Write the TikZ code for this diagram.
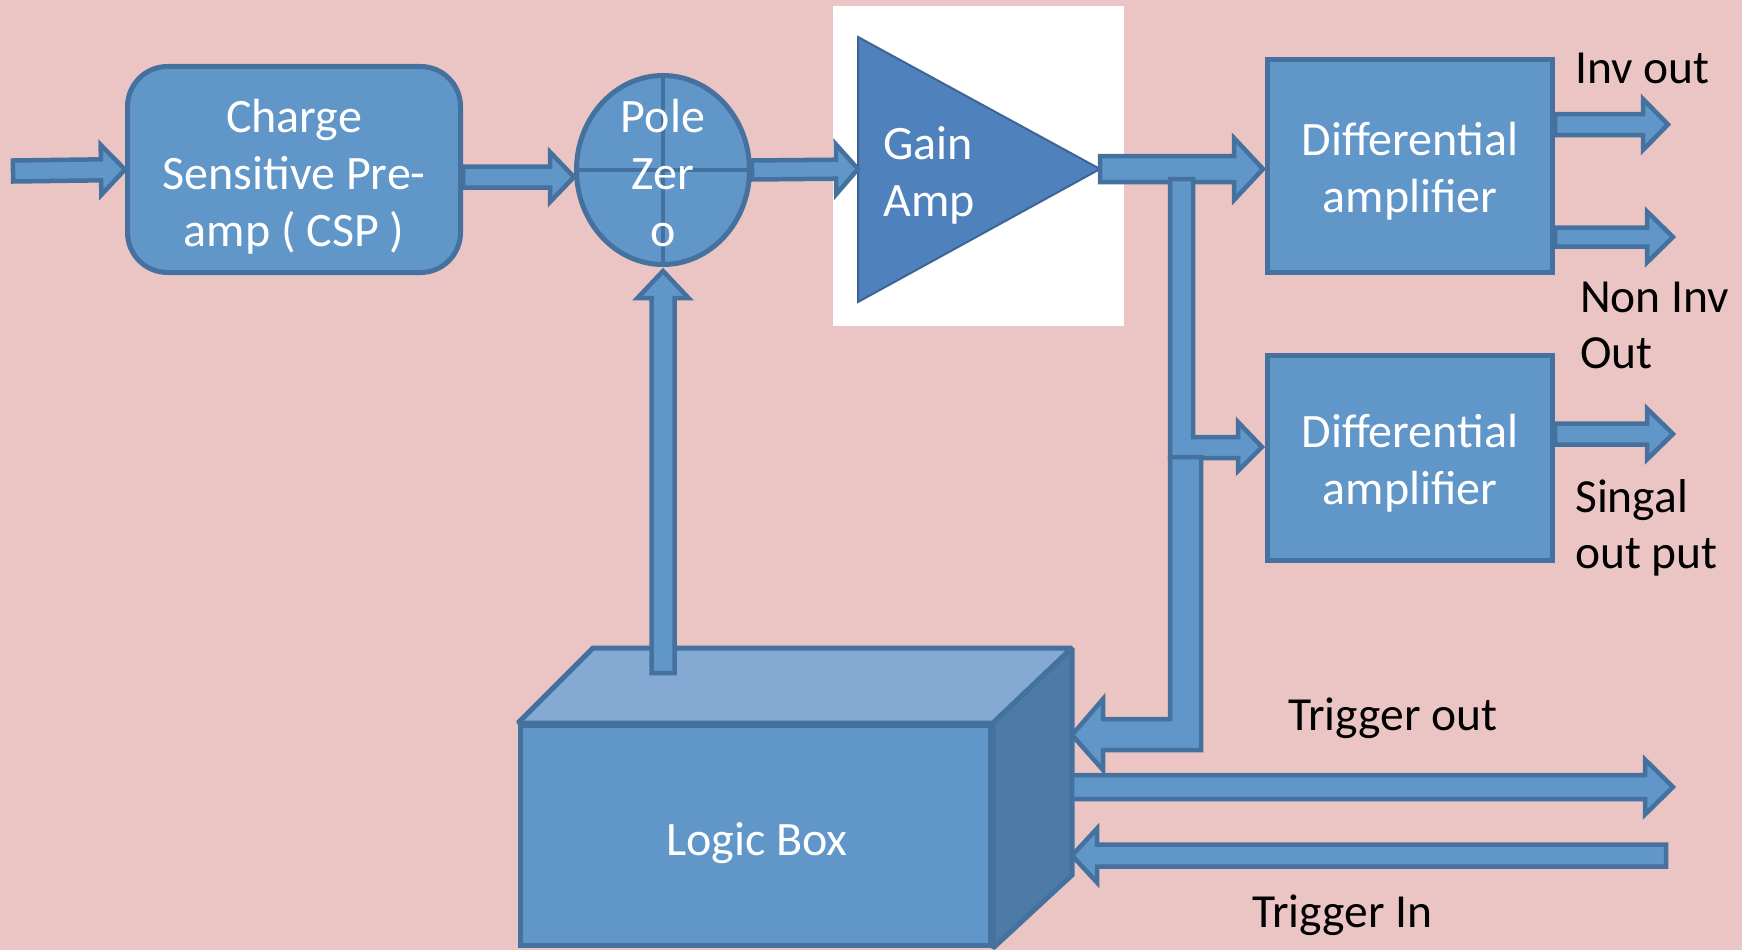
\documentclass[tikz,border=0pt]{standalone}
\usepackage{fontspec}
\setmainfont{Carlito}
\usetikzlibrary{calc,shapes.geometric}
\definecolor{bg}{RGB}{235,197,196}
\definecolor{boxfill}{RGB}{97,150,201}
\definecolor{bord}{RGB}{68,113,158}
\definecolor{trifill}{RGB}{79,129,189}
\definecolor{tribord}{RGB}{60,101,150}
\definecolor{topface}{RGB}{132,169,211}
\definecolor{sideface}{RGB}{78,122,167}
\newcommand\fatarrow[5]{%
  \coordinate (fahb) at ($(#2)!#5!(#1)$);
  \draw[fat] ($(#1)!#3!90:(#2)$) -- ($(fahb)!#3!-90:(#1)$) -- ($(fahb)!#4!-90:(#1)$) -- (#2)
    -- ($(fahb)!#4!90:(#1)$) -- ($(fahb)!#3!90:(#1)$) -- ($(#1)!#3!-90:(#2)$) -- cycle;}
\tikzset{
  box/.style={draw=bord, fill=boxfill, line width=5pt, inner sep=0pt},
  face/.style={draw=bord, line width=5pt, line join=miter, miter limit=2},
  fat/.style={draw=bord, fill=boxfill, line width=4.5pt, line join=miter},
  wtxt/.style={text=white, font=\fontsize{48}{57}\selectfont, align=center, inner sep=0pt},
  btxt/.style={text=black, font=\fontsize{47.5}{56}\selectfont, align=left, inner sep=0pt},
}
\begin{document}
\begin{tikzpicture}[x=1pt,y=-1pt]
\useasboundingbox (0,0) rectangle (1742,950);
\fill[bg] (0,0) rectangle (1742,950);
% white panel behind gain amp
\fill[white] (833,6) rectangle (1124,326);

% blocks
\node[box, rounded corners=40pt, minimum width=333pt, minimum height=206pt] (csp) at (294,169.5) {};
\node[wtxt] (csptxt) at (294,178.5) {\strut Charge\\\strut Sensitive Pre-\\\strut amp ( CSP )};

\node[box, ellipse, minimum width=173pt, minimum height=189pt] (pz) at (663,170) {};
\draw[draw=bord, line width=4pt] (pz.north) -- (pz.south) (pz.west) -- (pz.east);
\node[wtxt] (pztxt) at (663,178) {\strut Pole\\\strut Zer\\\strut o};

\coordinate (gainin) at (858,169);
\coordinate (gaintip) at (1100,169);
\draw[fill=trifill, draw=tribord, line width=2pt, line join=miter] (858,37) -- (858,302) -- (gaintip) -- cycle;
\node[wtxt, align=left, anchor=west] (gaintxt) at (883,177) {\strut Gain\\\strut Amp};

\node[box, minimum width=285pt, minimum height=213pt] (d1) at (1410,166) {};
\node[wtxt] (d1txt) at (1410,173) {\strut Differential\\\strut amplifier};
\node[box, minimum width=285pt, minimum height=205pt] (d2) at (1410,458) {};
\node[wtxt] (d2txt) at (1410,464.5) {\strut Differential\\\strut amplifier};

% logic box (3D)
\node[box, minimum width=470pt, minimum height=220pt] (logic) at (755.5,835.5) {};
\draw[face, fill=topface] (logic.north west) -- ++(75,-75) -- ($(logic.north east)+(79,-75)$) coordinate (lbr) -- (logic.north east) -- cycle;
\draw[face, fill=sideface] (logic.north east) -- (lbr) -- ++(0,227) -- (logic.south east) -- cycle;
\node[wtxt] (logictxt) at (757,844.5) {\strut Logic Box};

% connector end points
\coordinate (inA) at (13,171);
\coordinate (cspout) at ($(csp.east)+(0,7.5)$);
\coordinate (pzin) at (574,177);
\coordinate (gainout) at (1263,169);
\coordinate (invA) at (1555,124.5);
\coordinate (invB) at (1668,124.5);
\coordinate (nonA) at (1555,237);
\coordinate (nonB) at (1673,237);
\coordinate (sigA) at (1555,434);
\coordinate (sigB) at (1673,434);
\coordinate (upfoot) at (663,673);
\coordinate (uptip) at (663,271);
\coordinate (toA) at (1072,787);
\coordinate (toB) at (1673,787);
\coordinate (tiA) at (1666,855.5);
\coordinate (tiB) at (1072,855.5);
\coordinate (brtip) at (1262,447);
\coordinate (lgtip) at (1072,735);

% arrows
\fatarrow{inA}{csp.west}{10.5pt}{25pt}{24pt}
\fatarrow{cspout}{pzin}{10.5pt}{25pt}{24pt}
\fatarrow{pz.east}{gainin}{9.5pt}{25pt}{22pt}
\fatarrow{gaintip}{gainout}{13pt}{31pt}{29pt}
\draw[fat] (1170,179) -- (1193,179) -- (1193,437) -- (1238,437) -- (1238,422) -- (brtip)
  -- (1238,471) -- (1238,458) -- (1170,458) -- cycle;
\draw[fat] (1170,457) -- (1201,457) -- (1201,750) -- (1103,750) -- (1103,770) -- (lgtip)
  -- (1103,699) -- (1103,719) -- (1170,719) -- cycle;
\fatarrow{invA}{invB}{10.5pt}{25.5pt}{25pt}
\fatarrow{nonA}{nonB}{9.5pt}{25.5pt}{26pt}
\fatarrow{sigA}{sigB}{10.5pt}{25.5pt}{26pt}
\fatarrow{upfoot}{uptip}{11.5pt}{25.5pt}{27pt}
\fatarrow{toA}{toB}{12pt}{27.5pt}{28pt}
\fatarrow{tiA}{tiB}{11pt}{27pt}{25pt}

% labels
\node[btxt, anchor=base west] (lbinv) at (1575,83) {Inv out};
\node[btxt, anchor=north west] (lbnon) at (1580,273) {\strut Non Inv\\\strut Out};
\node[btxt, anchor=north west] (lbsig) at (1575,473) {\strut Singal\\\strut out put};
\node[btxt, anchor=base west] (lbto) at (1288,730) {Trigger out};
\node[btxt, anchor=base west] (lbti) at (1252,927) {Trigger In};
\end{tikzpicture}
\end{document}
